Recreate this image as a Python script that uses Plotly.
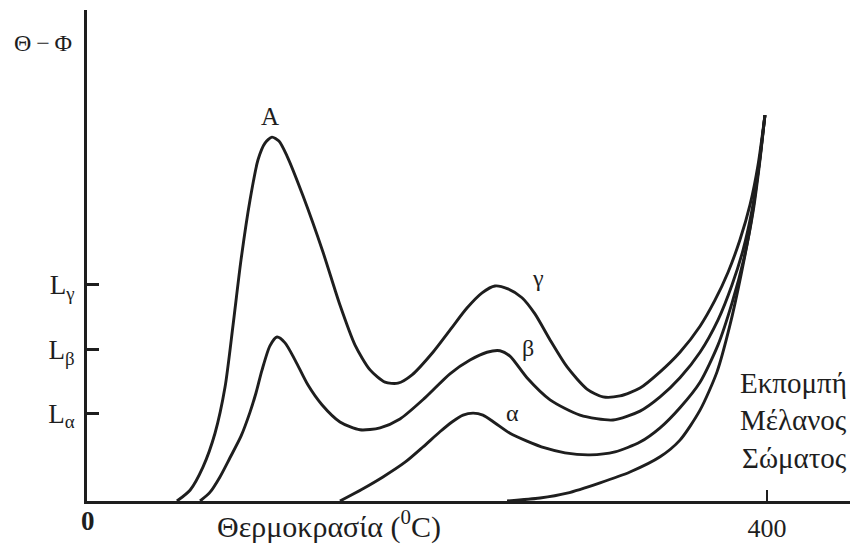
import plotly.graph_objects as go

# Temperature (°C) and intensity (arbitrary units)
gamma_x = [52.9, 60.6, 68.2, 75.3, 81.2, 85.9, 90.6, 95.9, 100.6, 104.7, 108.8, 112.9, 117.6, 127.1,
           138.8, 148.8, 157.6, 166.5, 175.3, 182.9, 191.2, 203.5, 213.5, 223.5, 232.4, 240.0, 247.6,
           255.9, 263.5, 272.4, 282.4, 294.1, 303.5, 313.5, 325.3, 337.1, 348.8, 360.6, 369.4, 377.1,
           384.1, 390.0, 394.7, 398.8]
gamma_y = [0, 2.2, 6.9, 13.8, 23.2, 35.8, 49.1, 61.3, 69.5, 72.9, 74.1, 73.3, 70.3, 62.1,
           50.7, 39.9, 31.8, 26.7, 24.2, 24.0, 25.7, 30.3, 34.8, 39.3, 42.4, 43.8, 43.2,
           41.4, 38.1, 32.8, 27.3, 22.8, 21.2, 21.4, 23.0, 26.3, 30.3, 35.6, 40.9, 46.6,
           53.2, 60.3, 68.4, 78.6]

beta_x = [66.5, 72.4, 78.2, 84.1, 90.6, 95.9, 99.4, 102.9, 107.6, 111.8, 116.5, 122.4, 130.0, 138.2,
          148.8, 160.6, 172.4, 184.1, 198.8, 213.5, 225.3, 235.3, 242.9, 248.8, 258.8, 272.4, 290.0,
          309.4, 325.3, 337.1, 348.8, 360.6, 371.2, 379.4, 385.9, 391.2, 395.3, 398.8]
beta_y = [0, 1.8, 4.9, 8.8, 13.2, 18.1, 22.0, 26.6, 31.6, 33.4, 32.2, 28.7, 23.6, 19.6,
          16.1, 14.5, 14.9, 16.7, 21.0, 25.9, 28.7, 30.3, 30.6, 29.5, 25.1, 20.6, 17.5,
          16.5, 18.3, 21.2, 25.1, 30.3, 36.9, 44.0, 51.1, 59.3, 68.4, 78.6]

alpha_x = [148.8, 161.8, 174.1, 187.1, 197.6, 207.6, 214.7, 221.2, 227.1, 232.9, 240.0, 248.8, 258.8,
           269.4, 281.2, 295.9, 310.6, 325.3, 337.1, 348.8, 360.6, 371.2, 379.4, 386.5, 391.8,
           395.3, 398.8]
alpha_y = [0, 2.4, 4.9, 7.9, 11.0, 14.1, 16.1, 17.5, 17.9, 17.5, 15.9, 13.8, 12.2,
           10.8, 9.8, 9.4, 10.0, 12.0, 14.9, 19.0, 24.2, 31.8, 40.3, 49.5, 58.9,
           67.8, 78.6]

black_x = [247.1, 266.5, 282.4, 301.8, 319.4, 337.1, 348.8, 360.6, 370.6, 378.2, 384.7, 390.6, 395.3, 398.8]
black_y = [0, 0.6, 1.6, 3.7, 5.9, 9.0, 12.4, 18.5, 26.3, 35.8, 46.0, 56.8, 68.4, 78.6]

level_vals = [44.0, 30.8, 17.9]
level_text = ["L<sub>γ</sub>", "L<sub>β</sub>", "L<sub>α</sub>"]
x_tick_vals = [400]
x_tick_text = ["400"]

INK = "#1e1e1e"
SERIF = "Liberation Serif, DejaVu Serif, serif"

fig = go.Figure()
for xs, ys in [(gamma_x, gamma_y), (beta_x, beta_y), (alpha_x, alpha_y), (black_x, black_y)]:
    fig.add_trace(go.Scatter(x=xs, y=ys, mode="lines",
                             line=dict(color=INK, width=2.9, shape="spline", smoothing=0.7),
                             hoverinfo="skip", showlegend=False))

W, H = 850, 551
L, R, T, B = 87, 0, 10, 50
pw, ph = W - L - R, H - T - B


def px_ann(x, y, text, size, xanchor="center", bold=False):
    return dict(x=(x - L) / pw, y=(H - B - y) / ph, xref="paper", yref="paper",
                text=f"<b>{text}</b>" if bold else text, showarrow=False,
                xanchor=xanchor, yanchor="middle",
                font=dict(family=SERIF, size=size, color=INK))


def data_ann(x, y, text, size):
    return dict(x=x, y=y, xref="x", yref="y", text=text, showarrow=False,
                xanchor="center", yanchor="middle",
                font=dict(family=SERIF, size=size, color=INK))


annotations = [
    data_ann(107.6, 78.3, "A", 25),
    data_ann(265.5, 45.4, "γ", 24),
    data_ann(259.5, 31.2, "β", 24),
    data_ann(250.0, 17.9, "α", 24),
    px_ann(43, 43, "Θ\u2009−\u2009Φ", 24),
    px_ann(88, 521, "0", 27, bold=True),
    px_ann(329, 524, "Θερμοκρασία (<sup>0</sup>C)", 30),
    px_ann(849, 383, "Εκπομπή", 29, xanchor="right"),
    px_ann(849, 420, "Μέλανος", 29, xanchor="right"),
    px_ann(849, 458, "Σώματος", 29, xanchor="right"),
]

fig.update_layout(
    width=W, height=H,
    margin=dict(l=L, r=R, t=T, b=B),
    paper_bgcolor="white", plot_bgcolor="white",
    annotations=annotations,
    xaxis=dict(range=[0, (W - L) / 1.7], showgrid=False, zeroline=False,
               showline=True, linecolor=INK, linewidth=3,
               tickvals=x_tick_vals, ticktext=x_tick_text, ticks="inside",
               ticklen=11, tickwidth=2, tickcolor=INK, ticklabelstandoff=2,
               tickfont=dict(family=SERIF, size=26, color=INK)),
    yaxis=dict(range=[0, 100], showgrid=False, zeroline=False,
               showline=True, linecolor=INK, linewidth=3,
               tickvals=level_vals, ticktext=level_text, ticks="inside",
               ticklen=12, tickwidth=3, tickcolor=INK, ticklabelstandoff=4,
               tickfont=dict(family=SERIF, size=27, color=INK)),
)

fig.write_html("out.html")
